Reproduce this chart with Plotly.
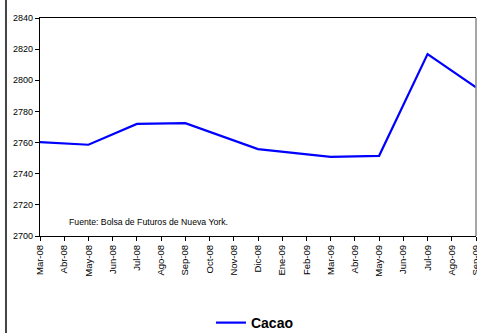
import plotly.graph_objects as go

months = ["Mar-08", "Abr-08", "May-08", "Jun-08", "Jul-08", "Ago-08", "Sep-08",
          "Oct-08", "Nov-08", "Dic-08", "Ene-09", "Feb-09", "Mar-09", "Abr-09",
          "May-09", "Jun-09", "Jul-09", "Ago-09", "Sep-09"]
cacao = [2760.3, None, 2758.6, None, 2772.0, None, 2772.5,
         None, None, 2755.8, None, None, 2750.8, None,
         2751.5, None, 2816.8, None, 2795.4]

fig = go.Figure()
fig.add_trace(go.Scatter(
    x=months, y=cacao, mode="lines", name="<b>Cacao</b>",
    connectgaps=True, line=dict(color="#0000FF", width=2.2)))

fig.update_layout(
    width=477, height=333,
    margin=dict(l=40, r=1, t=18, b=97),
    paper_bgcolor="white", plot_bgcolor="white",
    font=dict(family="Liberation Sans, Arial", size=9, color="black"),
    showlegend=True,
    legend=dict(orientation="h", x=0.493, xanchor="center",
                yref="container", y=0.03, yanchor="middle",
                font=dict(size=14, family="Liberation Sans, Arial"),
                itemwidth=30, bgcolor="rgba(0,0,0,0)"),
    xaxis=dict(type="category", range=[0, 18], showgrid=False, zeroline=False,
               showline=True, linecolor="black", linewidth=1.3, mirror=True,
               ticks="outside", ticklen=4, tickcolor="black", tickangle=-90,
               tickfont=dict(size=9.5), tickson="labels", automargin=False),
    yaxis=dict(range=[2700, 2840], dtick=20, showgrid=False, zeroline=False,
               showline=True, linecolor="black", linewidth=1.3,
               ticks="outside", ticklen=4, tickcolor="black",
               tickfont=dict(size=9), automargin=False),
    annotations=[dict(text="Fuente: Bolsa de Futuros de Nueva York.", xref="paper", yref="paper",
                      x=0.063, y=0.065, xanchor="left", yanchor="middle", showarrow=False,
                      font=dict(size=8.7, family="Liberation Sans Narrow, Arial Narrow, Liberation Sans"))],
    shapes=[
        dict(type="line", xref="paper", yref="paper", x0=1, x1=1, y0=0, y1=1,
             line=dict(color="#888888", width=1.5)),
        dict(type="line", xref="paper", yref="paper", x0=-0.078, x1=-0.078, y0=-0.45, y1=1.09,
             line=dict(color="#444444", width=2)),
    ],
)

fig.write_html("out.html")
